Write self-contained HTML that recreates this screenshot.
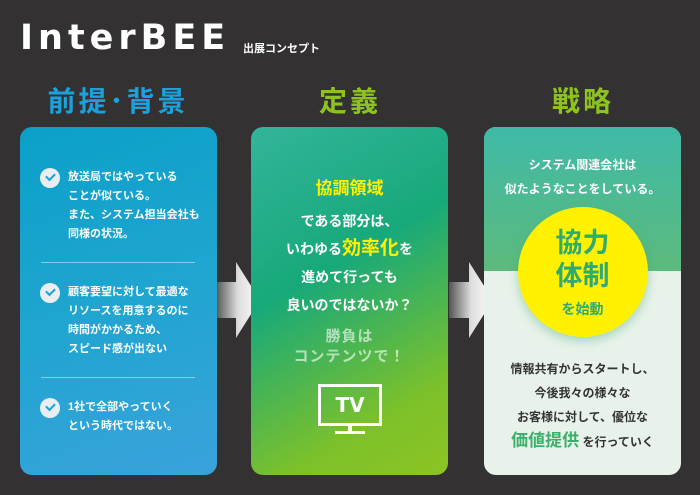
<!DOCTYPE html>
<html><head><meta charset="utf-8"><style>
*{margin:0;padding:0;box-sizing:border-box}
body{width:700px;height:495px;background:#333131;position:relative;overflow:hidden;font-family:"Liberation Sans","Noto Sans CJK JP",sans-serif;font-weight:bold}
.abs{position:absolute}
.h{position:absolute;top:80px;font-size:28px;letter-spacing:3px;text-align:center;width:200px}
.panel{position:absolute;top:127px;height:348px;width:197px;border-radius:12px;overflow:hidden}
.item{position:absolute;left:68px;color:#fff;font-size:11px;line-height:19px}
.chk{position:absolute;left:40px;width:20px;height:20px;border-radius:50%;background:#e8eef2}
.chk:after{content:"";position:absolute;left:6px;top:5px;width:7px;height:4px;border-left:2px solid #1ba1dc;border-bottom:2px solid #1ba1dc;transform:rotate(-45deg)}
.sep{position:absolute;left:41px;width:154px;height:1px;background:rgba(255,255,255,.45)}
.c{text-align:center;position:absolute;left:0;width:100%}
</style></head><body>
<div class="abs" style="left:20px;top:19px;color:#fff;font-size:35px;letter-spacing:5px;line-height:38px;font-family:'DejaVu Sans','Liberation Sans',sans-serif">InterBEE</div>
<div class="abs" style="left:243px;top:40px;color:#fff;font-size:11px">出展コンセプト</div>

<div class="h" style="left:18px;color:#1ba1dc">前提･背景</div>
<div class="h" style="left:250px;color:#8dc21f">定義</div>
<div class="h" style="left:483px;color:#8dc21f">戦略</div>

<svg class="abs" style="left:216px;top:262px" width="46" height="80"><defs><linearGradient id="ag" x1="0" x2="1"><stop offset="0" stop-color="#555"/><stop offset=".5" stop-color="#ddd"/><stop offset="1" stop-color="#fff"/></linearGradient></defs><polygon points="0,20 20,20 20,0 44,38 20,76 20,56 0,56" fill="url(#ag)"/></svg>
<svg class="abs" style="left:449px;top:262px" width="46" height="80"><polygon points="0,20 20,20 20,0 44,38 20,76 20,56 0,56" fill="url(#ag)"/></svg>

<div class="panel" style="left:20px;background:linear-gradient(160deg,#0ba0c8 0%,#1fa5d0 50%,#3aa2dc 100%)">
</div>
<div class="chk" style="top:168px"></div>
<div class="item" style="top:168px">放送局ではやっている<br>ことが似ている。<br>また、システム担当会社も<br>同様の状況。</div>
<div class="sep" style="top:262px"></div>
<div class="chk" style="top:283px"></div>
<div class="item" style="top:283px">顧客要望に対して最適な<br>リソースを用意するのに<br>時間がかかるため、<br>スピード感が出ない</div>
<div class="sep" style="top:377px"></div>
<div class="chk" style="top:398px"></div>
<div class="item" style="top:398px">1社で全部やっていく<br>という時代ではない。</div>

<div class="panel" style="left:251px;background:linear-gradient(150deg,#33b49a 0%,#17a97a 40%,#7dc12a 80%,#8cc423 100%)">
 <div class="c" style="top:47px;color:#fff100;font-size:17px">協調領域</div>
 <div class="c" style="top:80px;color:#fff;font-size:14px;line-height:28px">である部分は、<br>いわゆる<span style="color:#fff100;font-size:19px">効率化</span>を<br>進めて行っても<br>良いのではないか？</div>
 <div class="c" style="top:200px;color:rgba(255,255,255,.6);font-size:15px;line-height:20px;letter-spacing:1px">勝負は<br>コンテンツで！</div>
 <div class="abs" style="left:67px;top:257px;width:64px;height:42px;border:3px solid #fff;color:#fff;font-size:20px;text-align:center;line-height:36px;font-family:'DejaVu Sans',sans-serif">TV</div>
 <div class="abs" style="left:97px;top:299px;width:4px;height:8px;background:#fff"></div>
 <div class="abs" style="left:84px;top:304px;width:30px;height:3px;background:#fff"></div>
</div>

<div class="panel" style="left:484px;background:#e8f2ea">
 <div class="abs" style="left:0;top:0;width:100%;height:144px;background:linear-gradient(180deg,#3fbaa8,#5cba7c)"></div>
 <div class="c" style="top:26px;color:#fff;font-size:12px;line-height:24px">システム関連会社は<br>似たようなことをしている。</div>
 <div class="abs" style="left:34px;top:80px;width:130px;height:130px;border-radius:50%;background:#fff100;box-shadow:0 4px 10px rgba(60,170,120,.4)"></div>
 <div class="c" style="top:100px;color:#2eaa72;font-size:27px;line-height:33px">協力<br>体制</div>
 <div class="c" style="top:172px;color:#2eaa72;font-size:14px">を始動</div>
 <div class="c" style="top:230px;color:#333;font-size:12px;line-height:24px">情報共有からスタートし、<br>今後我々の様々な<br>お客様に対して、優位な</div>
 <div class="c" style="top:299px;color:#333;font-size:12px"><span style="font-size:17px;color:#3cb06a">価値提供</span> を行っていく</div>
</div>
</body></html>
